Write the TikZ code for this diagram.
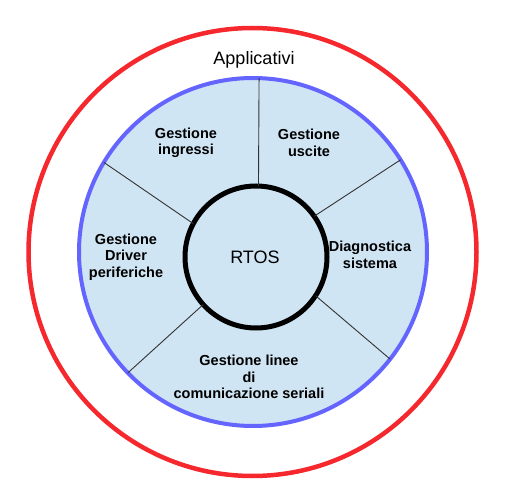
\documentclass[tikz,border=0pt]{standalone}
\usepackage{fontspec}
\setmainfont{Liberation Sans}
\definecolor{ringred}{RGB}{245,40,45}
\definecolor{ringblue}{RGB}{100,100,255}
\definecolor{ringfill}{RGB}{208,229,244}
\tikzset{
    label/.style={font=\bfseries\fontsize{14.5}{16.5}\selectfont, align=center, inner sep=1pt},
    plain/.style={font=\fontsize{18}{20}\selectfont, inner sep=1pt},
    spoke/.style={draw=black!80, line width=0.9pt}
}
\begin{document}
\begin{tikzpicture}[x=1pt, y=-1pt]
\useasboundingbox (0,0) rectangle (512,497);
    \node[circle, draw=ringred, line width=4.5pt, minimum size=448pt, outer sep=0pt] (apps) at (252.5,252) {};
    \node[circle, draw=ringblue, fill=ringfill, line width=4pt, minimum size=348pt, outer sep=0pt] (ring) at (253,252) {};
    \node[circle, draw=black, line width=5pt, minimum size=142pt, outer sep=0pt] (core) at (256,257) {};
    \foreach \from/\to in {ring.88.3/core.88.4, ring.32.6/core.35.8, ring.149/core.152.8, ring.224/core.222, ring.322.3/core.327.4}
        \draw[spoke] (\from) -- (\to);
    \node[plain] (appl) at (254,60) {Applicativi};
    \node[plain] (rtos) at (255,257) {RTOS};
    \node[label] (ingr) at (186,143) {Gestione\\ingressi};
    \node[label] (usc) at (309,143) {Gestione\\uscite};
    \node[label] (diag) at (370,255) {Diagnostica\\sistema};
    \node[label] (drv) at (126,257) {Gestione\\Driver\\periferiche};
    \node[label] (ser) at (249,377) {Gestione linee\\di\\comunicazione seriali};
\end{tikzpicture}
\end{document}
